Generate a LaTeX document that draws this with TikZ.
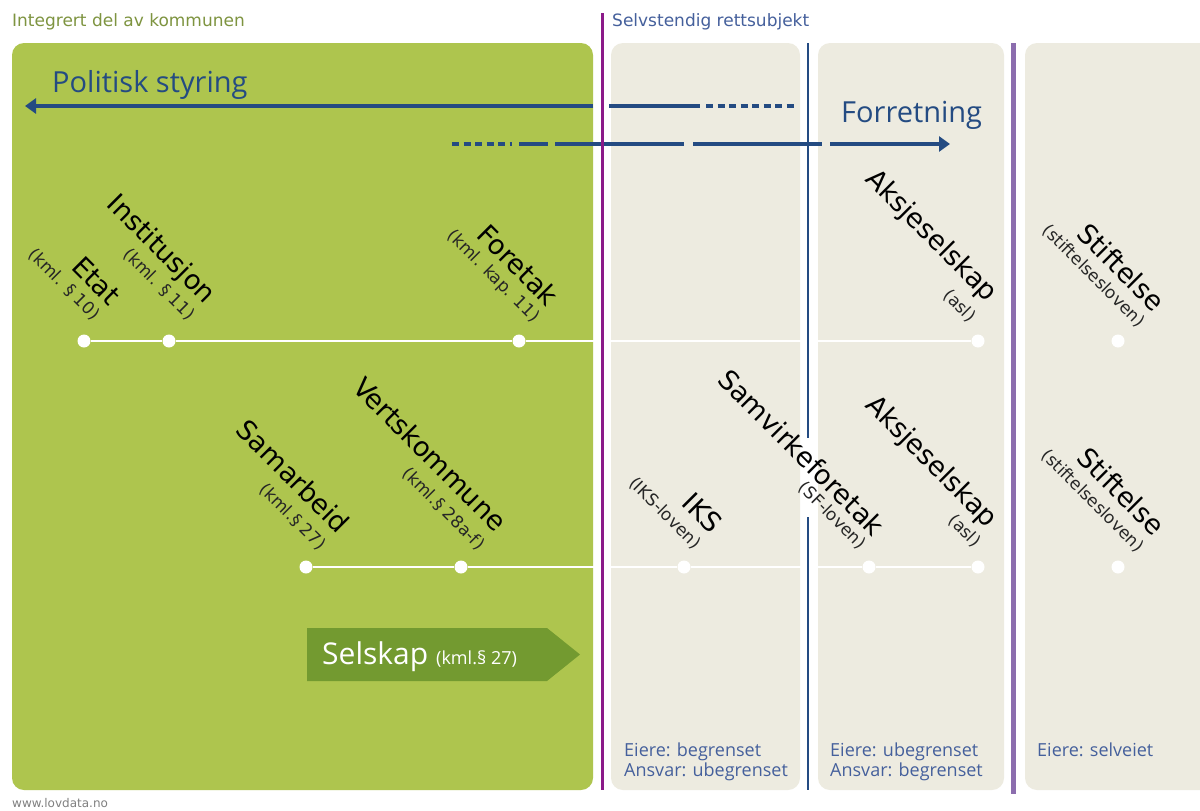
\documentclass[tikz,border=0pt]{standalone}
\usepackage{fontspec}
\usetikzlibrary{arrows.meta}
\newfontfamily\dv{DejaVu Sans}
\newfontfamily\os{Open Sans}
\definecolor{lime}{HTML}{AEC54E}
\definecolor{beige}{HTML}{EDEBE0}
\definecolor{purp}{HTML}{8B1A89}
\definecolor{navy}{HTML}{244B82}
\definecolor{lav}{HTML}{8C6DAE}
\definecolor{olivetxt}{HTML}{7E9440}
\definecolor{bluetxt}{HTML}{45609C}
\definecolor{dkgreen}{HTML}{739A30}
\tikzset{
  panel/.style={fill=beige, rounded corners=12pt},
  wdot/.style={circle, fill=white, inner sep=0pt, minimum size=13pt},
  wline/.style={white, line width=1.7pt},
  flow/.style={navy, line width=4.5pt},
  dotflow/.style={navy, line width=4.5pt, dash pattern=on 7pt off 4.5pt},
  mainlab/.style={rotate=-45, anchor=base east, inner sep=0pt, font=\dv\fontsize{27}{27}\selectfont, text=black},
  sublab/.style={rotate=-45, anchor=base east, inner sep=0pt, font=\dv\fontsize{17}{17}\selectfont, text=black!85},
  hdr/.style={anchor=base west, inner sep=0pt, font=\dv\fontsize{17}{17}\selectfont},
  big/.style={anchor=base west, inner sep=0pt, font=\os\fontsize{29}{29}\selectfont, text=navy},
  foot/.style={anchor=base west, inner sep=0pt, font=\os\fontsize{18}{18}\selectfont, text=bluetxt},
}
\begin{document}
\begin{tikzpicture}[x=1pt,y=-1pt]
\useasboundingbox (0,0) rectangle (1200,811);
\fill[white] (0,0) rectangle (1200,811);
% panels
\fill[lime, rounded corners=12pt] (12,43) rectangle (593,790);
\fill[panel] (611,43) rectangle (800,790);
\fill[panel] (818,43) rectangle (1004,790);
\fill[panel] (1025,43) rectangle (1216,790);
% headers
\node[hdr, text=olivetxt] (hdrA) at (12,27) {Integrert del av kommunen};
\node[hdr, text=bluetxt] (hdrB) at (612,27) {Selvstendig rettsubjekt};
% dots
\node[wdot] (etat) at (84,341) {};
\node[wdot] (inst) at (169,341) {};
\node[wdot] (foretak) at (519,341) {};
\node[wdot] (asa1) at (978,341) {};
\node[wdot] (stift1) at (1118,341) {};
\node[wdot] (samarb) at (306,567) {};
\node[wdot] (verts) at (461,567) {};
\node[wdot] (iks) at (684,567) {};
\node[wdot] (sf) at (869,567) {};
\node[wdot] (asa2) at (978,567) {};
\node[wdot] (stift2) at (1118,567) {};
\draw[wline] (etat) -- (inst) -- (foretak) -- (asa1);
\draw[wline] (samarb) -- (verts) -- (iks) -- (sf) -- (asa2);
% arrows
\coordinate (pA) at (593,106);
\coordinate (pTip) at (25,106);
\coordinate (p1s) at (609,106);
\coordinate (p1e) at (700,106);
\coordinate (p2s) at (706,106);
\coordinate (p2e) at (797,106);
\draw[flow, -{Triangle[length=11pt,width=15pt]}] (pA) -- (pTip);
\draw[flow] (p1s) -- (p1e);
\draw[dotflow] (p2s) -- (p2e);
\coordinate (f0) at (452,144);
\coordinate (f1) at (512,144);
\coordinate (f2) at (519,144);
\coordinate (f3) at (548,144);
\coordinate (f4) at (555,144);
\coordinate (f5) at (684,144);
\coordinate (f6) at (693,144);
\coordinate (f7) at (822,144);
\coordinate (f8) at (830,144);
\coordinate (f9) at (950,144);
\draw[dotflow] (f0) -- (f1);
\draw[flow] (f2) -- (f3);
\draw[flow] (f4) -- (f5);
\draw[flow] (f6) -- (f7);
\draw[flow, -{Triangle[length=11pt,width=15pt]}] (f8) -- (f9);
% dividers
\draw[purp, line width=3pt] (602.5,13) -- (602.5,790);
\draw[navy, line width=2pt] (808,43) -- (808,438);
\draw[navy, line width=2pt] (808,517) -- (808,790);
\draw[lav, line width=5pt] (1013,43) -- (1013,794);
% big texts
\node[big] (pol) at (52,92) {Politisk styring};
\node[big] (forr) at (841,122) {Forretning};
% selskap
\fill[dkgreen] (307,628) -- (547,628) -- (580,654.5) -- (547,681) -- (307,681) -- cycle;
\node[anchor=base west, inner sep=0pt, text=white, font=\os\fontsize{30}{30}\selectfont] (selsk) at (322,664) {Selskap};
\node[anchor=base west, inner sep=0pt, text=white, font=\os\fontsize{18}{18}\selectfont] (selskl) at (436,664) {(kml.§ 27)};
% rotated labels
\node[mainlab] (tEtat) at (109,307) {Etat};
\node[sublab] (sEtat) at (93,321) {(kml. § 10)};
\node[mainlab] (tInst) at (205,305) {Institusjon};
\node[sublab] (sInst) at (188,321) {(kml. § 11)};
\node[mainlab] (tFor) at (547,308) {Foretak};
\node[sublab] (sFor) at (533,323) {(kml. kap. 11)};
\node[mainlab] (tAsa1) at (987,303) {Aksjeselskap};
\node[sublab] (sAsa1) at (969,323) {(asl)};
\node[mainlab] (tSt1) at (1153,313) {Stiftelse};
\node[sublab] (sSt1) at (1138,328) {(stiftelsesloven)};
\node[mainlab] (tSam) at (338,535) {Samarbeid};
\node[sublab] (sSam) at (319,551) {(kml.§ 27)};
\node[mainlab] (tVer) at (495,533) {Vertskommune};
\node[sublab] (sVer) at (478,551) {(kml.§ 28a-f)};
\node[mainlab] (tIks) at (711,535) {IKS};
\node[sublab] (sIks) at (694,550) {(IKS-loven)};
\node[mainlab] (tSf) at (873,538) {Samvirkeforetak};
\node[sublab] (sSf) at (859,550) {(SF-loven)};
\node[mainlab] (tAsa2) at (987,529) {Aksjeselskap};
\node[sublab] (sAsa2) at (974,548) {(asl)};
\node[mainlab] (tSt2) at (1153,537) {Stiftelse};
\node[sublab] (sSt2) at (1137,553) {(stiftelsesloven)};
% footers
\node[foot] (e1) at (624,756) {Eiere: begrenset};
\node[foot] (a1) at (624,776) {Ansvar: ubegrenset};
\node[foot] (e2) at (830,756) {Eiere: ubegrenset};
\node[foot] (a2) at (830,776) {Ansvar: begrenset};
\node[foot] (e3) at (1037,756) {Eiere: selveiet};
\node[anchor=base west, inner sep=0pt, font=\dv\fontsize{12}{12}\selectfont, text=black!50] (www) at (12,807) {www.lovdata.no};
\end{tikzpicture}
\end{document}
